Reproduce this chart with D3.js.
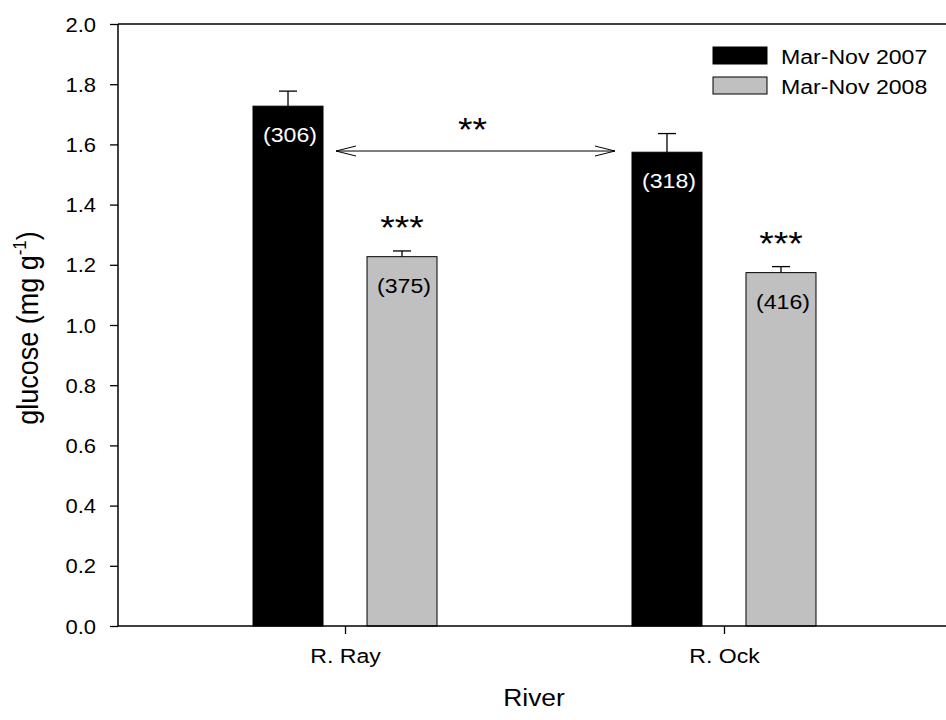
<!DOCTYPE html>
<html>
<head>
<meta charset="utf-8">
<script src="https://cdn.jsdelivr.net/npm/d3@7"></script>
<style>
  html, body { margin: 0; padding: 0; background: #fff; }
  svg { display: block; }
  text { font-family: "Liberation Sans", Arial, Helvetica, sans-serif; fill: #000; }
</style>
</head>
<body>
<svg id="chart" width="946" height="720"></svg>
<script>
// Glucose content by river and sampling period
const rivers = ["R. Ray", "R. Ock"];
const periods = ["Mar-Nov 2007", "Mar-Nov 2008"];
const glucose2007 = [1.727, 1.574];
const glucose2008 = [1.227, 1.174];
const se2007 = [0.050, 0.062];
const se2008 = [0.019, 0.020];
const sampleN2007 = [306, 318];
const sampleN2008 = [375, 416];
const signif2008 = ["***", "***"];
const betweenRivers2007 = "**";
const yTicks = [0, 0.2, 0.4, 0.6, 0.8, 1.0, 1.2, 1.4, 1.6, 1.8, 2.0];
const periodColors = ["#000000", "#c0c0c0"];

const series = periods.map((p, i) => ({
  period: p,
  color: periodColors[i],
  values: i === 0 ? glucose2007 : glucose2008,
  errors: i === 0 ? se2007 : se2008,
  counts: i === 0 ? sampleN2007 : sampleN2008
}));

const SX = 1.1; // horizontal glyph stretch
const svg = d3.select("#chart");
const plot = { left: 118, right: 951, top: 24, bottom: 626 };

const y = d3.scaleLinear().domain([0, 2]).range([plot.bottom, plot.top]);
const x0 = d3.scalePoint().domain(rivers).range([plot.left, plot.right]).padding(0.599);
const x1 = d3.scaleBand().domain(periods).range([-92, 92]).paddingInner(0.386);

// frame: top line
svg.append("line")
  .attr("x1", plot.left).attr("x2", plot.right)
  .attr("y1", plot.top).attr("y2", plot.top)
  .attr("stroke", "#000").attr("stroke-width", 1.5);

// bars
const bars = [];
series.forEach((s, si) => {
  rivers.forEach((r, ri) => {
    bars.push({ river: r, ri, si, period: s.period, color: s.color,
                value: s.values[ri], err: s.errors[ri], n: s.counts[ri] });
  });
});
const bx = d => x0(d.river) + x1(d.period);

// error bars (upper only)
const eb = svg.append("g");
bars.forEach(d => {
  const cx = bx(d) + x1.bandwidth() / 2;
  eb.append("line").attr("x1", cx).attr("x2", cx)
    .attr("y1", y(d.value)).attr("y2", y(d.value + d.err))
    .attr("stroke", "#000").attr("stroke-width", 1.3);
  eb.append("line").attr("x1", cx - 9).attr("x2", cx + 9)
    .attr("y1", y(d.value + d.err)).attr("y2", y(d.value + d.err))
    .attr("stroke", "#000").attr("stroke-width", 1.3);
});

svg.append("g").selectAll("rect").data(bars).join("rect")
  .attr("x", bx)
  .attr("y", d => y(d.value))
  .attr("width", x1.bandwidth())
  .attr("height", d => y(0) - y(d.value))
  .attr("fill", d => d.color)
  .attr("stroke", "#000").attr("stroke-width", 1);

// sample sizes inside bars
svg.append("g").selectAll("text").data(bars).join("text")
  .attr("transform", d => `translate(${bx(d) + x1.bandwidth() / 2 + 2},${y(d.value) + 36}) scale(${SX},1)`)
  .attr("text-anchor", "middle")
  .attr("font-size", 21)
  .style("fill", d => d.si === 0 ? "#fff" : "#000")
  .text(d => `(${d.n})`);

// significance stars above 2008 bars
svg.append("g").selectAll("text").data(bars.filter(d => d.si === 1)).join("text")
  .attr("transform", d => `translate(${bx(d) + x1.bandwidth() / 2},${y(d.value + d.err) - 12}) scale(${SX},1)`)
  .attr("text-anchor", "middle")
  .attr("font-size", 34)
  .text(d => signif2008[d.ri]);

// comparison arrow between 2007 bars
const a0 = bars.find(d => d.si === 0 && d.ri === 0);
const a1 = bars.find(d => d.si === 0 && d.ri === 1);
const ax1 = bx(a0) + x1.bandwidth() + 13;
const ax2 = bx(a1) - 17;
const ay = y(1.578);
const arrow = svg.append("g").attr("stroke", "#000").attr("stroke-width", 1).attr("fill", "none");
arrow.append("line").attr("x1", ax1).attr("x2", ax2).attr("y1", ay).attr("y2", ay);
arrow.append("path").attr("d", `M${ax1 + 20},${ay - 5}L${ax1},${ay}L${ax1 + 20},${ay + 5}`);
arrow.append("path").attr("d", `M${ax2 - 20},${ay - 5}L${ax2},${ay}L${ax2 - 20},${ay + 5}`);
svg.append("text")
  .attr("transform", `translate(${(ax1 + ax2) / 2 - 3},${ay - 10}) scale(${SX},1)`)
  .attr("text-anchor", "middle").attr("font-size", 34)
  .text(betweenRivers2007);

// y axis
const yAxis = svg.append("g")
  .attr("transform", `translate(${plot.left},0)`)
  .call(d3.axisLeft(y).tickValues(yTicks).tickFormat(d3.format(".1f")).tickSize(8).tickPadding(12));
yAxis.select(".domain").attr("stroke-width", 1.5).attr("d", `M-0,${plot.bottom}V${plot.top}`);
yAxis.selectAll(".tick line").attr("stroke-width", 1.3);
yAxis.selectAll(".tick text")
  .attr("font-size", 20).attr("font-family", null)
  .attr("transform", `scale(${SX},1)`)
  .attr("dy", "0.35em");

// x axis
const xAxis = svg.append("g")
  .attr("transform", `translate(0,${plot.bottom})`)
  .call(d3.axisBottom(x0).tickSize(8).tickPadding(14));
xAxis.select(".domain").attr("stroke-width", 1.5).attr("d", `M${plot.left},0H${plot.right}`);
xAxis.selectAll(".tick line").attr("stroke-width", 1.3);
xAxis.selectAll(".tick text")
  .attr("font-size", 21).attr("font-family", null)
  .attr("transform", `scale(${SX},1)`);

// axis titles
svg.append("text")
  .attr("transform", `translate(534,706) scale(${SX},1)`)
  .attr("text-anchor", "middle").attr("font-size", 24)
  .text("River");

const yt = svg.append("text")
  .attr("transform", `translate(38,328) scale(${SX},1) rotate(-90)`)
  .attr("text-anchor", "middle").attr("font-size", 27);
yt.append("tspan").text("glucose (mg g");
yt.append("tspan").attr("font-size", 17).attr("dy", -11).text("-1");
yt.append("tspan").attr("dy", 11).text(")");

// legend
const lg = svg.append("g").attr("transform", "translate(713,47)");
series.forEach((s, i) => {
  const row = lg.append("g").attr("transform", `translate(0,${i * 30})`);
  row.append("rect").attr("width", 54).attr("height", 17)
    .attr("fill", s.color).attr("stroke", "#000").attr("stroke-width", 1);
  row.append("text")
    .attr("transform", `translate(68,17) scale(${SX},1)`)
    .attr("font-size", 21)
    .text(s.period);
});
</script>
</body>
</html>
